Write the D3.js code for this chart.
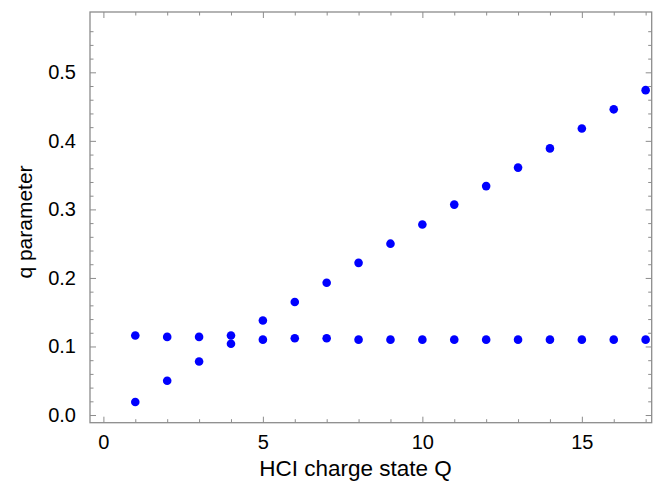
<!DOCTYPE html>
<html>
<head>
<meta charset="utf-8">
<script src="https://cdn.jsdelivr.net/npm/d3@7"></script>
<style>
  html, body { margin: 0; padding: 0; background: #fff; }
  svg { display: block; font-family: "Liberation Sans", Arial, Helvetica, sans-serif; }
</style>
</head>
<body>
<div class="chart-container"></div>
<script>
// charge states Q
var chargeStates = [1, 2, 3, 4, 5, 6, 7, 8, 9, 10, 11, 12, 13, 14, 15, 16, 17];
// rising series
var qRising = [0.019, 0.050, 0.078, 0.104, 0.138, 0.165, 0.193, 0.222, 0.250, 0.278, 0.307, 0.334, 0.361, 0.389, 0.418, 0.446, 0.474];
// near-constant series
var qFlat = [0.116, 0.114, 0.114, 0.116, 0.110, 0.112, 0.112, 0.110, 0.110, 0.110, 0.110, 0.110, 0.110, 0.110, 0.110, 0.110, 0.110];

var xTicks = [0, 5, 10, 15];
var yTicks = [0.0, 0.1, 0.2, 0.3, 0.4, 0.5];
var xLabel = "HCI charge state Q";
var yLabel = "q parameter";

var width = 659, height = 483;
var margin = { left: 90, right: 7.3, top: 12, bottom: 60.3 };
var frameColor = "#8c8c8c";

var svg = d3.select(".chart-container").append("svg")
  .attr("width", width)
  .attr("height", height);

var x = d3.scaleLinear().domain([-0.42, 17.19]).range([margin.left, width - margin.right]);
var y = d3.scaleLinear().domain([-0.0112, 0.588]).range([height - margin.bottom, margin.top]);

var x0 = x.range()[0], x1 = x.range()[1];
var y0 = y.range()[0], y1 = y.range()[1];

// minor ticks
var xMinor = d3.range(0, 18, 1).filter(function (d) { return xTicks.indexOf(d) < 0; });
var yMinor = d3.range(0, 29).map(function (i) { return +(i * 0.02).toFixed(2); })
  .filter(function (d) { return Math.abs(d * 10 - Math.round(d * 10)) > 1e-6; });

var majorLen = 6, minorLen = 3.5;

//bottom & top
var axB = d3.axisBottom(x).tickValues(xTicks).tickSize(-majorLen).tickFormat(d3.format("d")).tickPadding(12);
var gB = svg.append("g").attr("transform", "translate(0," + y0 + ")").call(axB);
svg.append("g").attr("transform", "translate(0," + y0 + ")")
  .call(d3.axisBottom(x).tickValues(xMinor).tickSize(-minorLen).tickFormat(""));
svg.append("g").attr("transform", "translate(0," + y1 + ")")
  .call(d3.axisTop(x).tickValues(xTicks).tickSize(-majorLen).tickFormat(""));
svg.append("g").attr("transform", "translate(0," + y1 + ")")
  .call(d3.axisTop(x).tickValues(xMinor).tickSize(-minorLen).tickFormat(""));

//left & right
var axL = d3.axisLeft(y).tickValues(yTicks).tickSize(-majorLen).tickFormat(d3.format(".1f")).tickPadding(14);
var gL = svg.append("g").attr("transform", "translate(" + x0 + ",0)").call(axL);
svg.append("g").attr("transform", "translate(" + x0 + ",0)")
  .call(d3.axisLeft(y).tickValues(yMinor).tickSize(-minorLen).tickFormat(""));
svg.append("g").attr("transform", "translate(" + x1 + ",0)")
  .call(d3.axisRight(y).tickValues(yTicks).tickSize(-majorLen).tickFormat(""));
svg.append("g").attr("transform", "translate(" + x1 + ",0)")
  .call(d3.axisRight(y).tickValues(yMinor).tickSize(-minorLen).tickFormat(""));

svg.selectAll(".domain").remove();
svg.selectAll(".tick line").attr("stroke", frameColor).attr("stroke-width", 1);
svg.selectAll(".tick text").attr("fill", "#000").attr("font-size", 20).attr("font-family", "Liberation Sans, Arial, sans-serif");

// frame
svg.append("rect")
  .attr("x", x0).attr("y", y1)
  .attr("width", x1 - x0).attr("height", y0 - y1)
  .attr("fill", "none")
  .attr("stroke", frameColor)
  .attr("stroke-width", 1.3);

// points
var pts = svg.append("g");
[qRising, qFlat].forEach(function (series) {
  pts.selectAll(null).data(series).enter().append("circle")
    .attr("cx", function (d, i) { return x(chargeStates[i]); })
    .attr("cy", function (d) { return y(d); })
    .attr("r", 4.3)
    .attr("fill", "#0000ff");
});

// axis titles
svg.append("text")
  .attr("x", 355.5)
  .attr("y", 476)
  .attr("text-anchor", "middle")
  .attr("font-size", 22.5)
  .attr("fill", "#000")
  .text(xLabel);

svg.append("text")
  .attr("transform", "translate(32,222) rotate(-90)")
  .attr("text-anchor", "middle")
  .attr("font-size", 21)
  .attr("fill", "#000")
  .text(yLabel);
</script>
</body>
</html>
